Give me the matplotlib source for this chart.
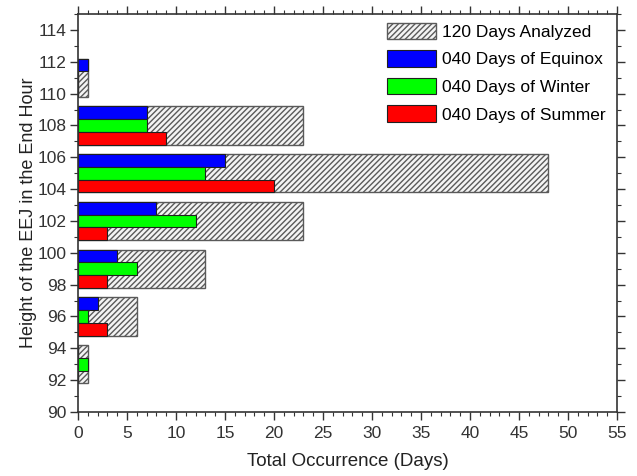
import matplotlib.pyplot as plt
import numpy as np
from matplotlib.ticker import MultipleLocator

plt.rcParams['font.family'] = ['Liberation Sans', 'DejaVu Sans']

# height groups (km) and day counts
heights = [93, 96, 99, 102, 105, 108, 111]
analyzed = [1, 6, 13, 23, 48, 23, 1]
equinox = [0, 2, 4, 8, 15, 7, 1]
winter = [1, 1, 6, 12, 13, 7, 0]
summer = [0, 3, 3, 3, 20, 9, 0]

fig = plt.figure(figsize=(6.37, 4.76), dpi=100)
ax = fig.add_axes([0.1225, 0.1345, 0.8461, 0.836])

h = 0.8
y = np.array(heights)
ax.barh(y, analyzed, height=3 * h, facecolor='#f4f4f4', edgecolor='#5a5a5a',
        hatch='//////', linewidth=1.0, label='120 Days Analyzed')
ax.barh(y + h, equinox, height=h, color='#0000ff', edgecolor='#202020',
        linewidth=0.8, label='040 Days of Equinox')
ax.barh(y, winter, height=h, color='#00ff00', edgecolor='#202020',
        linewidth=0.8, label='040 Days of Winter')
ax.barh(y - h, summer, height=h, color='#ff0000', edgecolor='#202020',
        linewidth=0.8, label='040 Days of Summer')

ax.set_xlim(0, 55)
ax.set_ylim(90, 115)
ax.xaxis.set_major_locator(MultipleLocator(5))
ax.xaxis.set_minor_locator(MultipleLocator(1))
ax.yaxis.set_minor_locator(MultipleLocator(1))
ax.set_yticks(np.arange(90, 115, 2))
ax.tick_params(which='both', direction='out', top=True, right=True,
               labeltop=False, labelright=False, color='#333333', labelsize=12.5,
               labelcolor='#333333', pad=2)
ax.tick_params(which='major', length=6, width=1.0)
ax.tick_params(which='minor', length=3, width=0.8)
ax.tick_params(axis='x', pad=4)
for s in ax.spines.values():
    s.set_linewidth(1.2)
    s.set_color('#333333')

ax.set_xlabel('Total Occurrence (Days)', fontsize=13.5, labelpad=9, color='#222222')
ax.set_ylabel('Height of the EEJ in the End Hour', fontsize=13, labelpad=1,
              color='#222222')

ax.legend(loc='upper right', frameon=False, fontsize=12.5, handlelength=2.85,
          handleheight=1.08, labelspacing=0.6, handletextpad=0.3,
          borderpad=0, borderaxespad=0, bbox_to_anchor=(0.978, 0.978))

fig.savefig('out.png', dpi=100)
